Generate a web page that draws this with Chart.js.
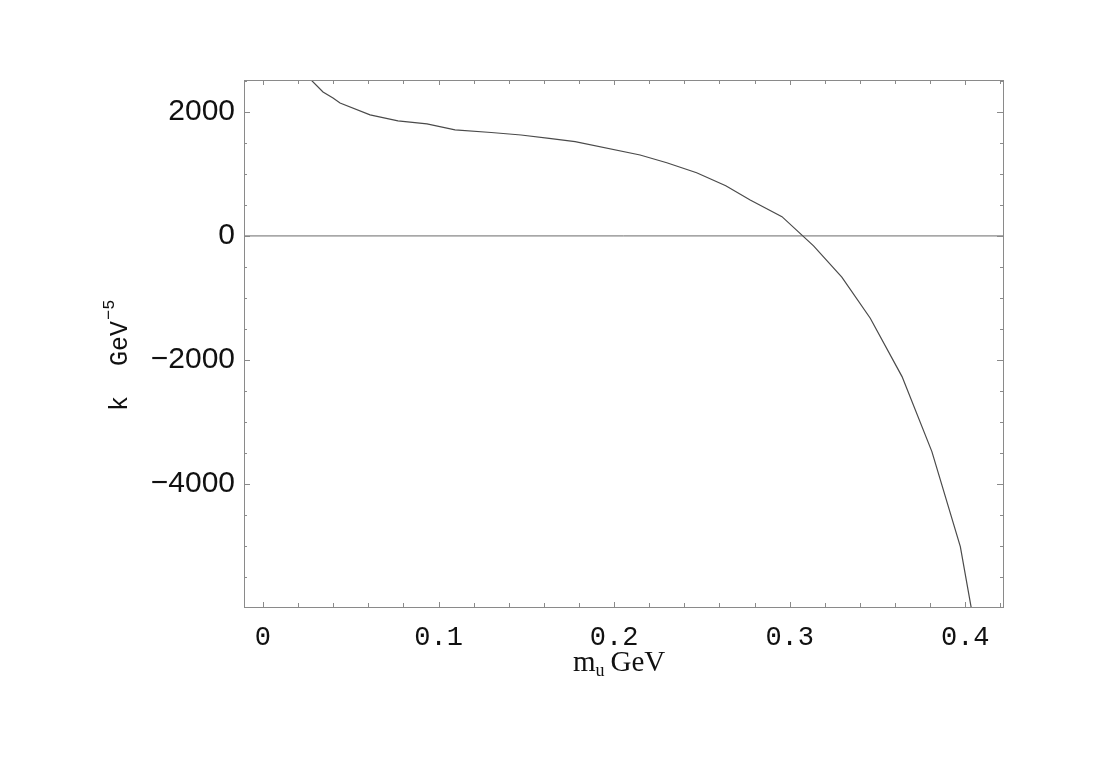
<!DOCTYPE html>
<html>
<head>
<meta charset="utf-8">
<script src="https://cdn.jsdelivr.net/npm/chart.js@4.4.1/dist/chart.umd.min.js"></script>
<style>
  html, body { margin: 0; padding: 0; background: #fff; }
  #wrap { width: 1113px; height: 770px; }
</style>
</head>
<body>
<div id="wrap"><canvas id="myChart" width="1113" height="770"></canvas></div>
<script>
// curve k(m_u)
var massU = [0.0225, 0.0342, 0.0399, 0.0439, 0.061, 0.0769, 0.0934, 0.1094, 0.130, 0.147, 0.163, 0.1778,
             0.2148, 0.230, 0.247, 0.2636, 0.2775, 0.2956, 0.3136, 0.3297, 0.3459, 0.364, 0.381, 0.3972, 0.405];
var kValue = [2655, 2323, 2226, 2145, 1952, 1855, 1806, 1710, 1668, 1628, 1575, 1521,
              1306, 1180, 1020, 810, 580, 311, -161, -666, -1328, -2269, -3479, -5011, -6250];

var xTicks = [0, 0.1, 0.2, 0.3, 0.4];
var xTickLabels = ["0", "0.1", "0.2", "0.3", "0.4"];
var yTicks = [2000, 0, -2000, -4000];
var yTickLabels = ["2000", "0", "\u22122000", "\u22124000"];

var xMin = -0.0108, xMax = 0.4215;
var yMin = -5985, yMax = 2515;

var curve = [];
for (var i = 0; i < massU.length; i++) {
    curve.push({ x: massU[i], y: kValue[i] });
}
var zeroLine = [{ x: xMin, y: 0 }, { x: xMax, y: 0 }];

// frame, inward ticks and axis titles
var framePlugin = {
    id: 'frame',
    afterDraw: function(chart) {
        var ctx = chart.ctx;
        var a = chart.chartArea;
        var xs = chart.scales.x, ys = chart.scales.y;
        ctx.save();
        ctx.strokeStyle = '#8a8a8a';
        ctx.lineWidth = 1;
        ctx.strokeRect(Math.round(a.left) + 0.5, Math.round(a.top) + 0.5,
                       Math.round(a.right - a.left), Math.round(a.bottom - a.top));

        ctx.beginPath();
        for (var v = 0; v <= 0.42001; v += 0.02) {
            var px = Math.round(xs.getPixelForValue(v)) + 0.5;
            var major = Math.abs(v * 10 - Math.round(v * 10)) < 1e-6;
            var len = major ? 5 : 4;
            ctx.moveTo(px, a.bottom); ctx.lineTo(px, a.bottom - len);
            ctx.moveTo(px, a.top); ctx.lineTo(px, a.top + len);
        }
        for (var w = -5500; w <= 2500; w += 500) {
            var py = Math.round(ys.getPixelForValue(w)) + 0.5;
            var big = (w % 2000) === 0;
            var l2 = big ? 6 : 3;
            ctx.moveTo(a.left, py); ctx.lineTo(a.left + l2, py);
            ctx.moveTo(a.right, py); ctx.lineTo(a.right - l2, py);
        }
        ctx.stroke();

        // x title: m_u GeV
        ctx.fillStyle = '#111';
        ctx.textBaseline = 'alphabetic';
        ctx.font = '29px "Liberation Serif"';
        var xt = 573, yt = 671;
        ctx.fillText('m', xt, yt);
        var mw = ctx.measureText('m').width;
        ctx.font = '18px "Liberation Serif"';
        ctx.fillText('u', xt + mw, yt + 5);
        var uw = ctx.measureText('u').width;
        ctx.font = '29px "Liberation Serif"';
        ctx.fillText('GeV', xt + mw + uw + 6, yt);

        // y title: k GeV^-5
        ctx.save();
        ctx.translate(127, 411);
        ctx.rotate(-Math.PI / 2);
        ctx.font = '25px "Liberation Mono"';
        ctx.fillText('k  GeV', 0, 0);
        var gw = ctx.measureText('k  GeV').width;
        ctx.font = '17px "Liberation Mono"';
        ctx.fillText('\u22125', gw + 1, -13);
        ctx.restore();

        ctx.restore();
    }
};

var ctx = document.getElementById('myChart');
var myChart = new Chart(ctx, {
    type: 'line',
    data: {
        datasets: [
            {
                label: 'k',
                data: curve,
                borderColor: '#4a4a4a',
                borderWidth: 1.2,
                pointRadius: 0,
                tension: 0,
                fill: false
            },
            {
                label: 'zero',
                data: zeroLine,
                borderColor: '#6a6a6a',
                borderWidth: 1,
                pointRadius: 0,
                tension: 0,
                fill: false
            }
        ]
    },
    options: {
        responsive: false,
        animation: false,
        events: [],
        layout: { padding: { left: 0, top: 80, right: 110, bottom: 0 } },
        plugins: {
            legend: { display: false },
            tooltip: { enabled: false }
        },
        scales: {
            x: {
                type: 'linear',
                min: xMin,
                max: xMax,
                grid: { display: false, drawTicks: false },
                border: { display: false },
                afterFit: function(scale) { scale.height = 163; },
                afterBuildTicks: function(scale) {
                    scale.ticks = xTicks.map(function(v) { return { value: v }; });
                },
                ticks: {
                    autoSkip: false,
                    maxRotation: 0,
                    padding: 15,
                    color: '#111',
                    font: { family: '"Liberation Mono"', size: 27 },
                    callback: function(value) {
                        var k = xTicks.indexOf(value);
                        return k >= 0 ? xTickLabels[k] : '';
                    }
                }
            },
            y: {
                type: 'linear',
                min: yMin,
                max: yMax,
                grid: { display: false, drawTicks: false },
                border: { display: false },
                afterFit: function(scale) { scale.width = 244; },
                afterBuildTicks: function(scale) {
                    scale.ticks = yTicks.map(function(v) { return { value: v }; });
                },
                ticks: {
                    autoSkip: false,
                    padding: 9,
                    color: '#111',
                    font: { family: '"Liberation Sans"', size: 30 },
                    callback: function(value) {
                        var k = yTicks.indexOf(value);
                        return k >= 0 ? yTickLabels[k] : '';
                    }
                }
            }
        }
    },
    plugins: [framePlugin]
});
</script>
</body>
</html>
